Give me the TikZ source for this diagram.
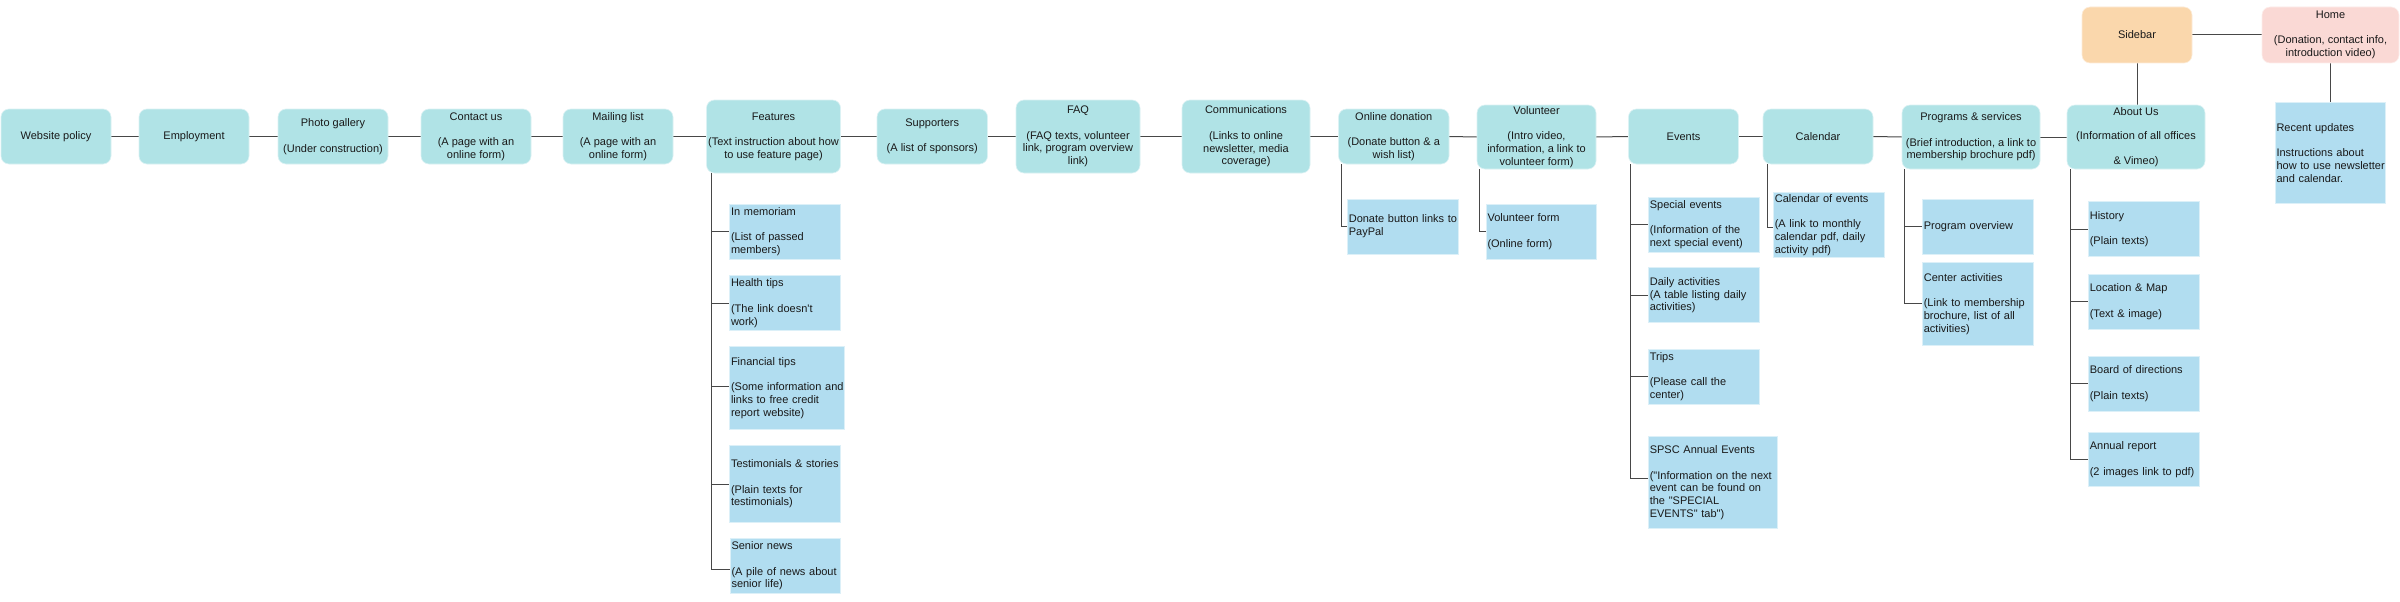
\documentclass[tikz,border=0pt]{standalone}
\usepackage{fontspec}
\newfontfamily\diafont{Liberation Sans}
\usetikzlibrary{calc,backgrounds}
\definecolor{mainfill}{HTML}{B0E3E6}
\definecolor{childfill}{HTML}{B1DDF0}
\definecolor{sidefill}{HTML}{FAD7AC}
\definecolor{homefill}{HTML}{FAD9D5}
\hyphenpenalty=10000
\exhyphenpenalty=10000
\hbadness=10000
\hfuzz=50pt
\begin{document}
\begin{tikzpicture}[x=1pt,y=-1pt,
  base/.style={font=\diafont\fontsize{11pt}{12.7pt}\selectfont, text=black!90, inner sep=0pt, outer sep=0pt, anchor=north west},
  mainbox/.style={base, fill=mainfill, draw=mainfill!45!white, line width=0.6pt, rounded corners=8pt, align=center},
  sidebox/.style={mainbox, fill=sidefill, draw=sidefill!45!white},
  homebox/.style={mainbox, fill=homefill, draw=homefill!45!white},
  childbox/.style={base, fill=childfill, draw=childfill!45!white, line width=0.6pt, align=left, inner xsep=1.5pt},
  conn/.style={draw=black!72, line width=1pt}]
\useasboundingbox (0,0) rectangle (2400,602);
% main chain
\node[mainbox, minimum width=110pt, minimum height=55pt] (wp) at (1,109) {Website policy};
\node[mainbox, minimum width=110pt, minimum height=55pt] (emp) at (139,109) {Employment};
\node[mainbox, minimum width=110pt, minimum height=55pt] (pg) at (278,109) {Photo gallery\\[12.7pt](Under construction)};
\node[mainbox, minimum width=110pt, minimum height=55pt] (cu) at (421,109) {Contact us\\[12.7pt](A page with an\\online form)};
\node[mainbox, minimum width=110pt, minimum height=55pt] (ml) at (563,109) {Mailing list\\[12.7pt](A page with an\\online form)};
\node[mainbox, minimum width=134pt, minimum height=73pt] (feat) at (706.5,100) {Features\\[12.7pt](Text instruction about how\\to use feature page)};
\node[mainbox, minimum width=110.5pt, minimum height=55pt] (sup) at (877,109) {Supporters\\[12.7pt](A list of sponsors)};
\node[mainbox, minimum width=124pt, minimum height=73pt] (faq) at (1016,100) {FAQ\\[12.7pt](FAQ texts, volunteer\\link, program overview\\link)};
\node[mainbox, minimum width=128pt, minimum height=73pt] (com) at (1182,100) {Communications\\[12.7pt](Links to online\\newsletter, media\\coverage)};
\node[mainbox, minimum width=110.5pt, minimum height=55pt] (od) at (1338.5,109) {Online donation\\[12.7pt](Donate button \& a\\wish list)};
\node[mainbox, minimum width=119pt, minimum height=64pt] (vol) at (1477,105) {Volunteer\\[12.7pt](Intro video,\\information, a link to\\volunteer form)};
\node[mainbox, minimum width=110pt, minimum height=55pt] (ev) at (1628.5,109) {Events};
\node[mainbox, minimum width=110pt, minimum height=55pt] (cal) at (1763,109) {Calendar};
\node[mainbox, minimum width=138pt, minimum height=64pt] (ps) at (1902,105) {Programs \& services\\[12.7pt](Brief introduction, a link to\\membership brochure pdf)};
\node[mainbox, minimum width=138pt, minimum height=64pt] (au) at (2067,105) {About Us\\[11.5pt](Information of all offices\\[11.5pt]\& Vimeo)};
\node[sidebox, minimum width=110pt, minimum height=56pt] (sb) at (2082,7) {Sidebar};
\node[homebox, minimum width=137pt, minimum height=56pt] (home) at (2262,7) {Home\\[12.7pt](Donation, contact info,\\introduction video)};
% children of Features
\node[childbox, text width=107.5pt, minimum height=55pt] (im) at (729.5,204) {In~memoriam\\[12.7pt](List~of~passed\\members)};
\node[childbox, text width=107.5pt, minimum height=55pt] (ht) at (729.5,275.7) {Health~tips\\[12.7pt](The~link~doesn't\\work)};
\node[childbox, text width=112pt, minimum height=82.6pt] (ft) at (729.5,346.7) {Financial~tips\\[12.7pt](Some~information~and\\links~to~free~credit\\report~website)};
\node[childbox, text width=107.5pt, minimum height=76.6pt] (ts) at (729.5,445.7) {Testimonials~\&~stories\\[12.7pt](Plain~texts~for\\testimonials)};
\node[childbox, text width=107pt, minimum height=55pt] (sn) at (730,538.3) {Senior~news\\[12.7pt](A~pile~of~news~about\\senior~life)};
% donation, volunteer
\node[childbox, text width=108pt, minimum height=55pt] (db) at (1347.3,199) {Donate~button~links~to\\PayPal};
\node[childbox, text width=107.7pt, minimum height=55pt] (vf) at (1486,204) {Volunteer~form\\[12.7pt](Online~form)};
% events
\node[childbox, text width=107.7pt, minimum height=55pt] (se) at (1648.3,197.3) {Special~events\\[12.7pt](Information~of~the\\next~special~event)};
\node[childbox, text width=107.7pt, minimum height=55pt] (da) at (1648.3,267.7) {Daily~activities\\(A~table~listing~daily\\activities)};
\node[childbox, text width=107.7pt, minimum height=54.7pt] (tr) at (1648.3,349.3) {Trips\\[12.7pt](Please~call~the\\center)};
\node[childbox, text width=126pt, minimum height=91.6pt] (spsc) at (1648.3,436.7) {SPSC~Annual~Events\\[12.7pt]("Information~on~the~next\\event~can~be~found~on\\the~"SPECIAL\\EVENTS"~tab")};
% calendar
\node[childbox, text width=108pt, minimum height=65pt] (ce) at (1773.3,192.3) {Calendar~of~events\\[12.7pt](A~link~to~monthly\\calendar~pdf,~daily\\activity~pdf)};
% programs
\node[childbox, text width=107.7pt, minimum height=55pt] (po) at (1922.3,199) {Program~overview};
\node[childbox, text width=107.7pt, minimum height=82.3pt] (ca) at (1922.3,262.7) {Center~activities\\[12.7pt](Link~to~membership\\brochure,~list~of~all\\activities)};
% about us
\node[childbox, text width=107.7pt, minimum height=55pt] (hi) at (2088.3,201.7) {History\\[12.7pt](Plain~texts)};
\node[childbox, text width=107.7pt, minimum height=55pt] (lm) at (2088.3,274.3) {Location~\&~Map\\[12.7pt](Text~\&~image)};
\node[childbox, text width=107.7pt, minimum height=55pt] (bd) at (2088.3,356) {Board~of~directions\\[12.7pt](Plain~texts)};
\node[childbox, text width=107.7pt, minimum height=54.4pt] (ar) at (2088.3,432.3) {Annual~report\\[12.7pt](2~images~link~to~pdf)};
% home child
\node[childbox, text width=107.5pt, minimum height=100.6pt] (ru) at (2275,102.7) {Recent~updates\\[12.7pt]Instructions~about\\how~to~use~newsletter\\and~calendar.};
\begin{pgfonlayer}{background}
\fill[white] (0,0) rectangle (2400,602);
% main chain
\draw[conn] (wp.east) -- (emp.west);
\draw[conn] (emp.east) -- (pg.west);
\draw[conn] (pg.east) -- (cu.west);
\draw[conn] (cu.east) -- (ml.west);
\draw[conn] (ml.east) -- (feat.west);
\draw[conn] (feat.east) -- (sup.west);
\draw[conn] (sup.east) -- (faq.west);
\draw[conn] (faq.east) -- (com.west);
\draw[conn] (com.east) -- (od.west);
\draw[conn] (od.east) -- (vol.west);
\draw[conn] (vol.east) -- (ev.west);
\draw[conn] (ev.east) -- (cal.west);
\draw[conn] (cal.east) -- (ps.west);
\draw[conn] (ps.east) -- (au.west);
\draw[conn] (sb.east) -- (home.west);
\draw[conn] (sb.south) -- (sb.south |- au.north);
\draw[conn] (home.south) -- (home.south |- ru.north);
% children
\draw[conn] ($(feat.south west)+(5,0)$) |- (im.west);
\draw[conn] ($(feat.south west)+(5,0)$) |- (ht.west);
\draw[conn] ($(feat.south west)+(5,0)$) |- ($(ft.west)+(0,-2)$);
\draw[conn] ($(feat.south west)+(5,0)$) |- (ts.west);
\draw[conn] ($(feat.south west)+(5,0)$) |- ($(sn.west)+(0,4)$);
\draw[conn] ($(od.south west)+(3.3,0)$) |- (db.west);
\draw[conn] ($(vol.south west)+(2,0)$) |- (vf.west);
\draw[conn] ($(ev.south west)+(2,0)$) |- (se.west);
\draw[conn] ($(ev.south west)+(2,0)$) |- (da.west);
\draw[conn] ($(ev.south west)+(2,0)$) |- (tr.west);
\draw[conn] ($(ev.south west)+(2,0)$) |- ($(spsc.west)+(0,-4)$);
\draw[conn] ($(cal.south west)+(4,0)$) |- ($(ce.west)+(0,2.5)$);
\draw[conn] ($(ps.south west)+(2,0)$) |- (po.west);
\draw[conn] ($(ps.south west)+(2,0)$) |- (ca.west);
\draw[conn] ($(au.south west)+(3,0)$) |- (hi.west);
\draw[conn] ($(au.south west)+(3,0)$) |- (lm.west);
\draw[conn] ($(au.south west)+(3,0)$) |- (bd.west);
\draw[conn] ($(au.south west)+(3,0)$) |- (ar.west);
\end{pgfonlayer}
\end{tikzpicture}
\end{document}
